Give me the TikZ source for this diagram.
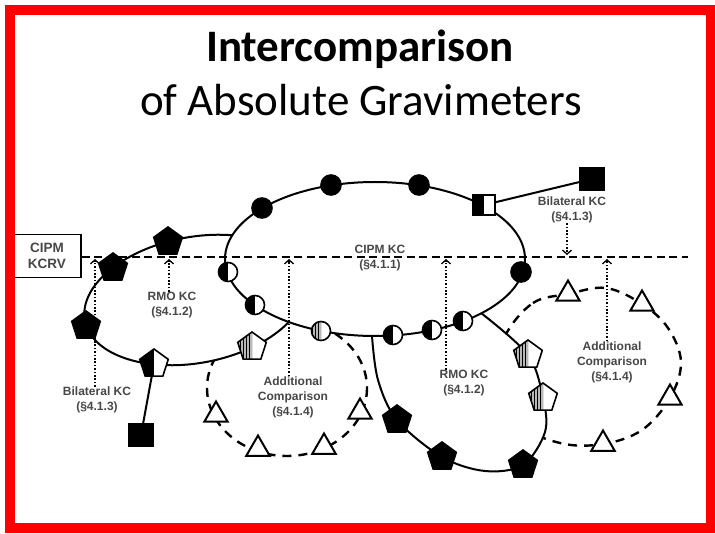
\documentclass[tikz,border=0pt]{standalone}
\usepackage{fontspec}
\setmainfont{Liberation Sans}
\newfontfamily\titlefont{Carlito}
\usetikzlibrary{shapes.geometric,arrows.meta,patterns}
\pgfdeclarelayer{bg}
\pgfsetlayers{bg,main}
\begin{document}
\begin{tikzpicture}[x=1pt,y=-1pt,
  loopline/.style={line width=2pt},
  dashloop/.style={line width=2.4pt, dash pattern=on 9pt off 7pt},
  kcline/.style={line width=1.5pt, dash pattern=on 8pt off 4.5pt},
  dotarrow/.style={line width=1.5pt, dash pattern=on 1.6pt off 1.8pt,
    -{Straight Barb[length=4pt,width=9pt,line width=1.3pt]}},
  lbl/.style={align=center, font=\bfseries\fontsize{12}{15}\selectfont, text=black!72, inner sep=0pt},
  mk/.style={draw=black, line width=1.6pt, inner sep=0pt, outer sep=0pt},
  halfblack/.style={path picture={\fill[black] (path picture bounding box.south west) rectangle (path picture bounding box.north);}},
  halfstripe/.style={path picture={\fill[gray!55] (path picture bounding box.south west) rectangle (path picture bounding box.north);
      \fill[pattern=vertical lines] (path picture bounding box.south west) rectangle (path picture bounding box.north);}},
  fcirc/.style={mk, circle, fill=black, minimum size=20pt},
  hcirc/.style={mk, circle, fill=white, minimum size=19pt, halfblack},
  scirc/.style={mk, circle, fill=white, minimum size=19pt, halfstripe},
  pent/.style={mk, regular polygon, regular polygon sides=5, minimum size=30pt},
  fpent/.style={pent, fill=black},
  hpent/.style={pent, fill=white, halfblack},
  spent/.style={pent, fill=white, halfstripe},
  tri/.style={mk, regular polygon, regular polygon sides=3, minimum size=27pt, fill=white, line width=2pt},
  fsq/.style={mk, rectangle, fill=black, minimum width=24pt, minimum height=22pt},
  hsq/.style={mk, rectangle, fill=white, minimum width=22pt, minimum height=20pt, halfblack},
]
\useasboundingbox (0,0) rectangle (715,534);

% title
\node[font=\titlefont\bfseries\fontsize{45}{54}\selectfont, anchor=base, inner sep=0pt] (title1) at (360,62) {Intercomparison};
\node[font=\titlefont\fontsize{45}{54}\selectfont, anchor=base, inner sep=0pt] (title2) at (361,116) {of Absolute Gravimeters};

% CIPM KCRV box
\node[draw, line width=1.2pt, minimum width=68pt, minimum height=43pt, align=center,
      font=\bfseries\fontsize{13.5}{15.5}\selectfont, text=black!72, inner sep=0pt] (kcrv) at (47,256) {CIPM\\KCRV};

% markers on the CIPM KC loop
\node[fcirc] (c1) at (262,208) {};
\node[fcirc] (c2) at (331,185) {};
\node[fcirc] (c3) at (419,185) {};
\node[hsq] (hs) at (484,205) {};
\node[fsq] (sqT) at (592,179) {};
\node[fcirc] (c4) at (521,272) {};
\node[hcirc] (h1) at (463,321) {};
\node[hcirc] (h2) at (432,330) {};
\node[hcirc] (h3) at (393,335) {};
\node[scirc] (s1) at (321,331) {};
\node[hcirc] (h4) at (255,305) {};
\node[hcirc] (h5) at (228,272) {};
\coordinate (jR) at (481,313);
\coordinate (jB) at (372,336);

% markers on the left RMO loop
\node[fpent] (lp1) at (113,268) {};
\node[fpent] (lp2) at (168,242) {};
\node[fpent] (lp3) at (86,326) {};
\node[hpent] (lp4) at (154,364) {};
\node[spent] (lp5) at (252,347) {};
\node[fsq] (sqB) at (141,435) {};

% markers on the right RMO loop
\node[fpent] (rp1) at (397,420) {};
\node[fpent] (rp2) at (442,457) {};
\node[fpent] (rp3) at (523,465) {};
\node[spent] (rs1) at (528,355) {};
\node[spent] (rs2) at (543,398) {};

% triangles
\node[tri] (lt1) at (216,415) {};
\node[tri] (lt2) at (258,449) {};
\node[tri] (lt3) at (324,447) {};
\node[tri] (lt4) at (360,412) {};
\node[tri] (rt1) at (568,294) {};
\node[tri] (rt2) at (642,304) {};
\node[tri] (rt3) at (670,398) {};
\node[tri] (rt4) at (603,444) {};

% labels
\node[lbl] (lab1) at (97,400) {Bilateral KC\\(§4.1.3)};
\node[lbl] (lab2) at (172,305) {RMO KC\\(§4.1.2)};
\node[lbl] (lab3) at (293,397) {Additional\\Comparison\\(§4.1.4)};
\node[lbl] (lab4) at (464,383) {RMO KC\\(§4.1.2)};
\node[lbl] (lab5) at (612,362) {Additional\\Comparison\\(§4.1.4)};
\node[lbl] (lab6) at (572,210) {Bilateral KC\\(§4.1.3)};
\node[lbl] (lab7) at (380,258) {CIPM KC\\(§4.1.1)};

\coordinate (k1) at (95,259);
\coordinate (k2) at (169,259);
\coordinate (k3) at (289,259);
\coordinate (k4) at (446,259);
\coordinate (k5) at (607,259);
\coordinate (k6) at (567,255);
\coordinate (kend) at (688,257);

\begin{pgfonlayer}{bg}
  \fill[white] (0,0) rectangle (715,534);
  % CIPM KC loop
  \draw[loopline] (375,259) ellipse [x radius=150, y radius=77];
  % left RMO loop and left additional comparison
  \begin{scope}[even odd rule]
    \clip (0,0) rectangle (715,534) (375,259) ellipse [x radius=150, y radius=77];
    \draw[loopline] plot[domain=0:360, samples=145, variable=\q]
      ({195+110.1*cos(\q)+11.59*sin(\q)},{300-20.6*cos(\q)+61.93*sin(\q)}) -- cycle;
    \begin{scope}[even odd rule]
      \clip (0,0) rectangle (715,534) plot[domain=0:360, samples=145, variable=\q]
        ({195+110.1*cos(\q)+11.59*sin(\q)},{300-20.6*cos(\q)+61.93*sin(\q)}) -- cycle;
      \draw[dashloop] (287,388) ellipse [x radius=80, y radius=68];
    \end{scope}
  \end{scope}
  % right RMO loop
  \draw[loopline] plot[smooth, tension=0.55] coordinates {(jB) (378,380) (rp1.center) (rp2.center) (485,471) (rp3.center) (545,432) (rs2.center) (rs1.center) (jR)};
  \begin{scope}[even odd rule]
    \clip (0,0) rectangle (715,534) plot[smooth, tension=0.55] coordinates {(jB) (378,380) (rp1.center) (rp2.center) (485,471) (rp3.center) (545,432) (rs2.center) (rs1.center) (jR)} -- cycle;
    \begin{scope}[even odd rule]
      \clip (0,0) rectangle (715,534) (375,259) ellipse [x radius=150, y radius=77];
      \draw[dashloop] plot[smooth cycle, tension=0.6] coordinates {(505,336) (533,303) (rt1.center) (606,288) (rt2.center) (668,328) (681,362) (rt3.center) (642,430) (rt4.center) (560,443) (515,422) (495,378)};
    \end{scope}
  \end{scope}
  % bilateral connectors
  \draw[loopline] (hs.center) -- (sqT.center);
  \draw[loopline] (lp4.center) -- (sqB.center);
  % CIPM KC line
  \draw[kcline] (kcrv.east |- kend) -- (kend);
  % dotted arrows
  \draw[dotarrow] (lab1.north -| k1) -- (k1);
  \draw[dotarrow] (lab2.north -| k2) -- (k2);
  \draw[dotarrow] (lab3.north -| k3) -- (k3);
  \draw[dotarrow] (lab4.north -| k4) -- (k4);
  \draw[dotarrow] (lab5.north -| k5) -- (k5);
  \draw[dotarrow] (lab6.south -| k6) -- (k6);
\end{pgfonlayer}

% red frame
\draw[red, line width=10pt] (9.5,10) rectangle (711,528);
\end{tikzpicture}
\end{document}
